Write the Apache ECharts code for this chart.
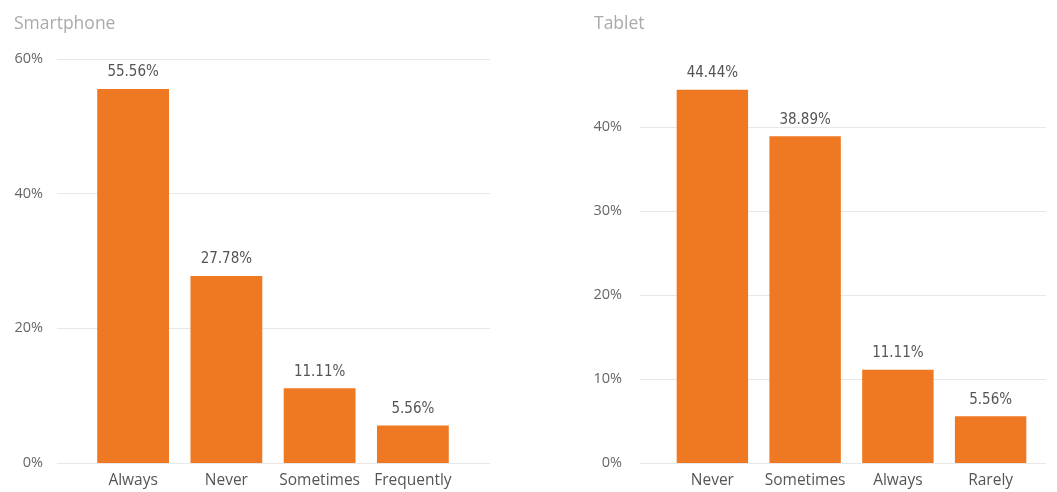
<!DOCTYPE html>
<html>
<head>
<meta charset="utf-8">
<style>
  html, body { margin: 0; padding: 0; background: #ffffff; }
  #chart { width: 1057px; height: 492px; }
</style>
<script src="https://cdn.jsdelivr.net/npm/echarts@6/dist/echarts.min.js"></script>
</head>
<body>
<div id="chart"></div>
<script>
// Usage frequency per device (share of respondents, %)
const phoneCategories = ['Always', 'Never', 'Sometimes', 'Frequently'];
const phoneValues = [55.56, 27.78, 11.11, 5.56];
const tabletCategories = ['Never', 'Sometimes', 'Always', 'Rarely'];
const tabletValues = [44.44, 38.89, 11.11, 5.56];
const phoneTicks = { min: 0, max: 60, interval: 20 };
const tabletTicks = { min: 0, max: 50, interval: 10 };

const ORANGE = '#EF7823';
const GRID_LINE = '#e8e8e8';
const LABEL_FONT = '"Open Sans", "Noto Sans", sans-serif';
const VALUE_FONT = '"DejaVu Sans Condensed", "Roboto Condensed", Roboto, sans-serif';

const chart = echarts.init(document.getElementById('chart'), null, { renderer: 'canvas' });

function percentLabel(v) { return v + '%'; }

function valueAxis(gridIndex, ticks, show, margin) {
  return {
    type: 'value', gridIndex: gridIndex,
    min: ticks.min, max: ticks.max, interval: ticks.interval,
    show: show,
    axisLine: { show: false }, axisTick: { show: false },
    axisLabel: {
      show: show, margin: margin, color: '#666', fontSize: 14.5, fontFamily: LABEL_FONT,
      formatter: function (v) { return v >= ticks.max && ticks.max % 20 !== 0 ? '' : percentLabel(v); }
    },
    splitLine: { show: show, showMaxLine: ticks.max % 20 === 0, lineStyle: { color: GRID_LINE, width: 1 } }
  };
}

function categoryAxis(gridIndex, cats) {
  return {
    type: 'category', gridIndex: gridIndex, data: cats,
    axisLine: { show: false }, axisTick: { show: false },
    axisLabel: { color: '#555', fontSize: 15.5, fontFamily: LABEL_FONT, margin: 10, interval: 0 }
  };
}

function barSeries(axisIndex, values) {
  return {
    type: 'bar', xAxisIndex: axisIndex, yAxisIndex: axisIndex,
    data: values, barCategoryGap: '23%',
    itemStyle: { color: ORANGE },
    label: {
      show: true, position: 'top', distance: 9,
      color: '#555', fontSize: 15, fontFamily: VALUE_FONT,
      formatter: function (p) { return p.value.toFixed(2) + '%'; }
    },
    silent: true
  };
}

chart.setOption({
  animation: false,
  title: [
    { text: 'Smartphone', left: 9, top: 10, textStyle: { color: '#aaa', fontSize: 17.5, fontWeight: 'normal', fontFamily: LABEL_FONT } },
    { text: 'Tablet', left: 589, top: 10, textStyle: { color: '#aaa', fontSize: 17.5, fontWeight: 'normal', fontFamily: LABEL_FONT } }
  ],
  grid: [
    // gridlines + y labels (smartphone)
    { left: 57, width: 433, top: 59, bottom: 29 },
    // bars (smartphone)
    { left: 86.5, width: 373, top: 59, bottom: 29 },
    // gridlines + y labels (tablet)
    { left: 640, width: 406, top: 43, bottom: 29 },
    // bars (tablet)
    { left: 666, width: 371, top: 43, bottom: 29 }
  ],
  xAxis: [
    { type: 'value', gridIndex: 0, show: false },
    categoryAxis(1, phoneCategories),
    { type: 'value', gridIndex: 2, show: false },
    categoryAxis(3, tabletCategories)
  ],
  yAxis: [
    valueAxis(0, phoneTicks, true, 14),
    valueAxis(1, phoneTicks, false, 0),
    valueAxis(2, tabletTicks, true, 18),
    valueAxis(3, tabletTicks, false, 0)
  ],
  series: [
    barSeries(1, phoneValues),
    barSeries(3, tabletValues)
  ]
});
</script>
</body>
</html>
